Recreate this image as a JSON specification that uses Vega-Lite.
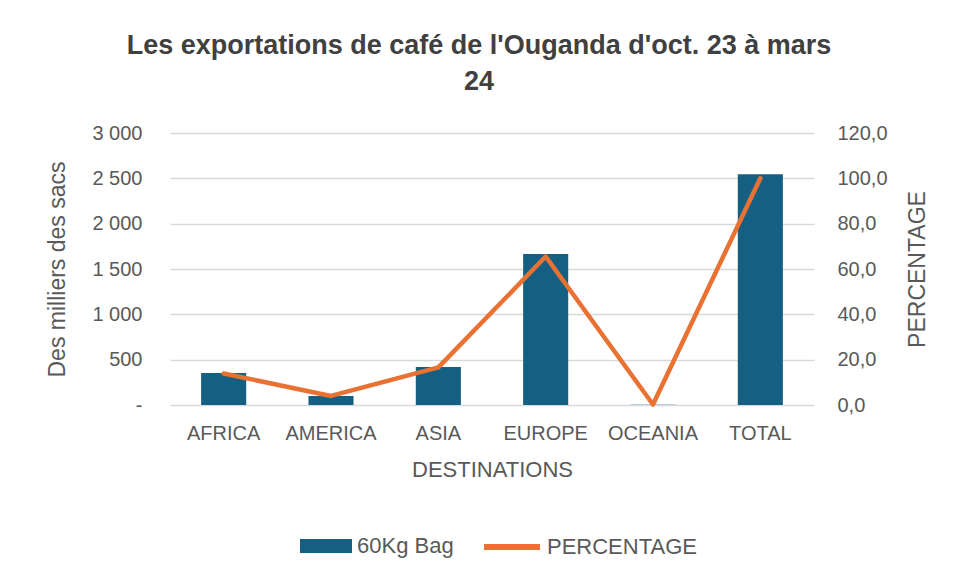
{
  "$schema": "https://vega.github.io/schema/vega-lite/v6.json",
  "width": 644,
  "height": 272,
  "autosize": {"type": "none"},
  "padding": {"left": 170, "right": 142, "top": 133, "bottom": 175},
  "background": "white",
  "title": {
    "text": ["Les exportations de café de l'Ouganda d'oct. 23 à mars", "24"],
    "fontSize": 27,
    "fontWeight": "bold",
    "font": "Liberation Sans",
    "color": "#404040",
    "anchor": "middle",
    "frame": "group",
    "dx": -13,
    "offset": 27,
    "lineHeight": 36
  },
  "config": {
    "font": "Liberation Sans",
    "view": {"stroke": null},
    "axis": {"labelColor": "#595959", "titleColor": "#595959", "titleFontWeight": "normal", "labelFont": "Liberation Sans", "titleFont": "Liberation Sans"},
    "legend": {"labelColor": "#595959", "labelFontSize": 22, "labelFont": "Liberation Sans", "padding": 0}
  },
  "data": {
    "values": [
      {"dest": "AFRICA", "bags": 353, "pct": 13.9},
      {"dest": "AMERICA", "bags": 99, "pct": 4.0},
      {"dest": "ASIA", "bags": 419, "pct": 16.6},
      {"dest": "EUROPE", "bags": 1665, "pct": 65.5},
      {"dest": "OCEANIA", "bags": 4, "pct": 0.2},
      {"dest": "TOTAL", "bags": 2545, "pct": 100.0}
    ]
  },
  "encoding": {
    "x": {
      "field": "dest",
      "type": "nominal",
      "sort": null,
      "scale": {"paddingInner": 0.58, "paddingOuter": 0.29},
      "axis": {
        "title": "DESTINATIONS",
        "labelAngle": 0,
        "labelFontSize": 20,
        "titleFontSize": 22,
        "labelPadding": 18,
        "titlePadding": 16,
        "ticks": false,
        "domain": false
      }
    }
  },
  "layer": [
    {
      "mark": {"type": "bar", "fill": "#156082"},
      "encoding": {
        "y": {
          "field": "bags",
          "type": "quantitative",
          "scale": {"domain": [0, 3000], "nice": false},
          "axis": {
            "title": "Des milliers des sacs",
            "values": [0, 500, 1000, 1500, 2000, 2500, 3000],
            "labelExpr": "datum.value === 0 ? '-' : replace(format(datum.value, ','), ',', ' ')",
            "labelFontSize": 20,
            "titleFontSize": 23,
            "labelPadding": 28,
            "titlePadding": 22,
            "ticks": false,
            "domain": false,
            "grid": true,
            "gridColor": "#d9d9d9",
            "gridWidth": 1.3
          }
        },
        "fill": {
          "datum": "60Kg Bag",
          "scale": {"domain": ["60Kg Bag"], "range": ["#156082"]},
          "legend": {
            "title": null,
            "orient": "none",
            "legendX": 130,
            "legendY": 387,
            "symbolType": "M-1,-0.27H1V0.27H-1Z",
            "symbolSize": 2704,
            "symbolStrokeWidth": 0,
            "labelOffset": 5
          }
        }
      }
    },
    {
      "mark": {"type": "line", "strokeWidth": 4.5, "strokeCap": "round", "strokeJoin": "round"},
      "encoding": {
        "y": {
          "field": "pct",
          "type": "quantitative",
          "scale": {"domain": [0, 120], "nice": false},
          "axis": {
            "title": "PERCENTAGE",
            "orient": "right",
            "values": [0, 20, 40, 60, 80, 100, 120],
            "labelExpr": "replace(format(datum.value, '.1f'), '.', ',')",
            "labelFontSize": 20,
            "titleFontSize": 23,
            "labelPadding": 23,
            "titlePadding": 19,
            "titleAngle": -90,
            "titleBaseline": "top",
            "ticks": false,
            "domain": false,
            "grid": false
          }
        },
        "stroke": {
          "datum": "PERCENTAGE",
          "scale": {"domain": ["PERCENTAGE"], "range": ["#E97132"]},
          "legend": {
            "title": null,
            "orient": "none",
            "legendX": 311,
            "legendY": 383,
            "symbolType": "stroke",
            "symbolSize": 3136,
            "symbolStrokeWidth": 6,
            "labelOffset": 4
          }
        }
      }
    }
  ],
  "resolve": {"scale": {"y": "independent", "fill": "independent", "stroke": "independent"}}
}
